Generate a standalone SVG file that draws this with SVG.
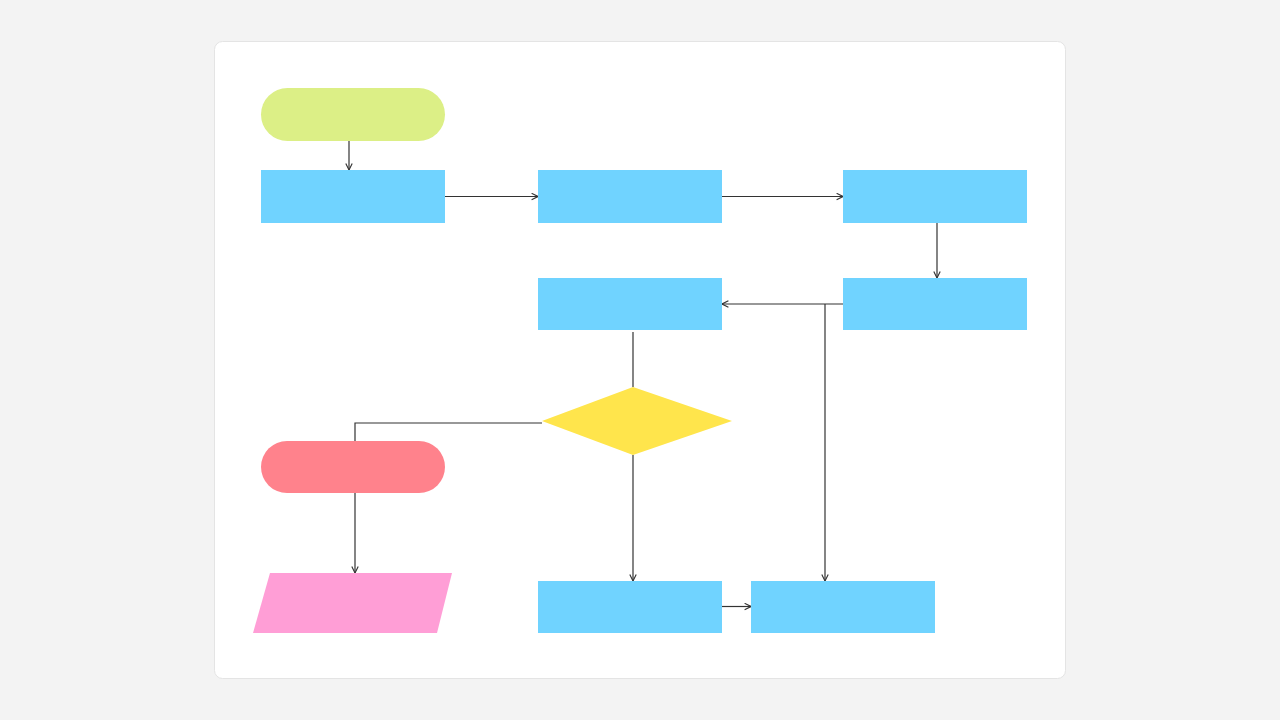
<svg xmlns="http://www.w3.org/2000/svg" width="1280" height="720" viewBox="0 0 1280 720">
<defs>
<style>
.proc{fill:#70d3ff}
.conn{fill:none;stroke:#333;stroke-width:1.2}
</style>
<marker id="arr" viewBox="0 0 10 10" refX="9" refY="5" markerWidth="8" markerHeight="8" markerUnits="userSpaceOnUse" orient="auto">
<path d="M1,1 L9,5 L1,9" fill="none" stroke="#333" stroke-width="1.4"/>
</marker>
</defs>
<rect width="1280" height="720" fill="#f3f3f3"/>
<rect x="214.5" y="41.5" width="851" height="637" rx="8" fill="#fff" stroke="#e4e4e4"/>
<g id="connectors">
<line class="conn" x1="349" y1="141" x2="349" y2="170" marker-end="url(#arr)"/>
<line class="conn" x1="445" y1="196.5" x2="538" y2="196.5" marker-end="url(#arr)"/>
<line class="conn" x1="722" y1="196.5" x2="843" y2="196.5" marker-end="url(#arr)"/>
<line class="conn" x1="937" y1="223" x2="937" y2="278" marker-end="url(#arr)"/>
<line class="conn" x1="843" y1="304" x2="722" y2="304" marker-end="url(#arr)"/>
<polyline class="conn" points="825,304 825,581" marker-end="url(#arr)"/>
<line class="conn" x1="633" y1="332" x2="633" y2="387"/>
<polyline class="conn" points="542,423 355,423 355,441"/>
<line class="conn" x1="355" y1="493" x2="355" y2="573" marker-end="url(#arr)"/>
<line class="conn" x1="633" y1="455" x2="633" y2="581" marker-end="url(#arr)"/>
<line class="conn" x1="722" y1="606.5" x2="751" y2="606.5" marker-end="url(#arr)"/>
</g>
<g id="start"><rect x="261" y="88" width="184" height="53" rx="26.5" fill="#dcef86"/></g>
<g id="p1"><rect class="proc" x="261" y="170" width="184" height="53"/></g>
<g id="p2"><rect class="proc" x="538" y="170" width="184" height="53"/></g>
<g id="p3"><rect class="proc" x="843" y="170" width="184" height="53"/></g>
<g id="p4"><rect class="proc" x="538" y="278" width="184" height="52"/></g>
<g id="p5"><rect class="proc" x="843" y="278" width="184" height="52"/></g>
<g id="decision"><polygon points="633,387 732,421 633,455 542,421" fill="#ffe54c"/></g>
<g id="end"><rect x="261" y="441" width="184" height="52" rx="26" fill="#ff828c"/></g>
<g id="io"><polygon points="270,573 452,573 437,633 253,633" fill="#ff9ed6"/></g>
<g id="p6"><rect class="proc" x="538" y="581" width="184" height="52"/></g>
<g id="p7"><rect class="proc" x="751" y="581" width="184" height="52"/></g>
</svg>
